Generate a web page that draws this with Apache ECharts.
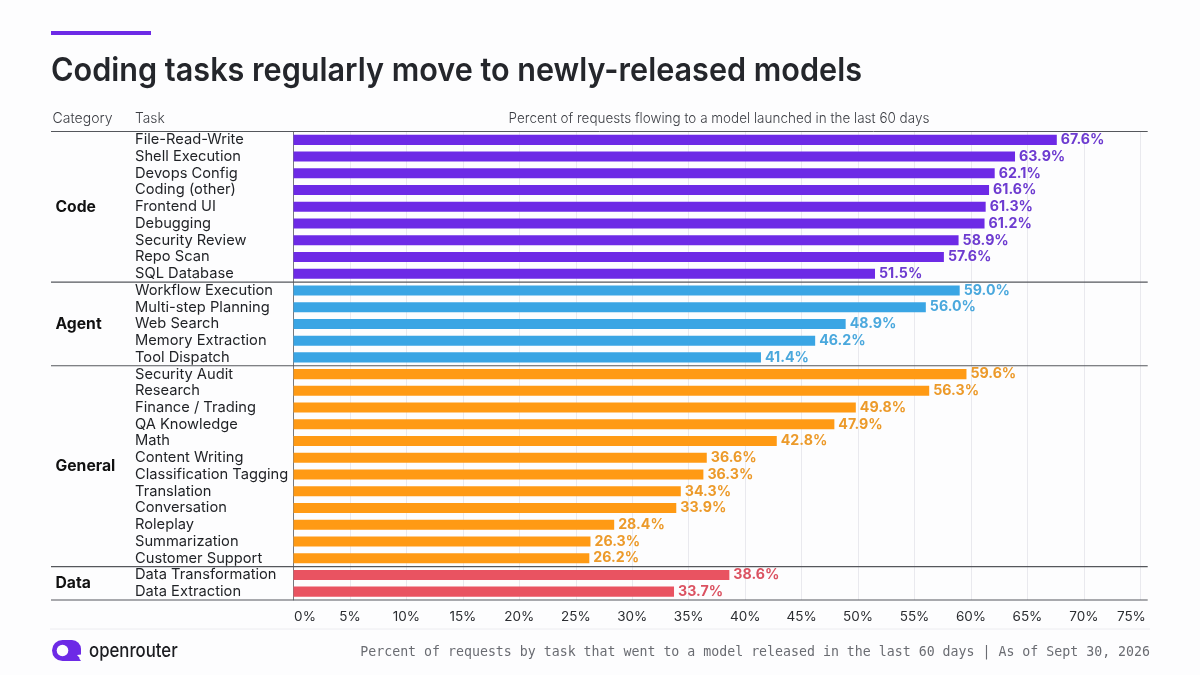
<!DOCTYPE html>
<html>
<head>
<meta charset="utf-8">
<title>Coding tasks regularly move to newly-released models</title>
<script src="https://cdn.jsdelivr.net/npm/echarts@6/dist/echarts.min.js"></script>
<style>
  html, body { margin: 0; padding: 0; background: #fdfdfe; }
  #chart { width: 1200px; height: 675px; }
</style>
</head>
<body>
<div id="chart"></div>
<script>
// Task groups, top to bottom
const groupNames = ['Code', 'Agent', 'General', 'Data'];
const codeTasks = ['File-Read-Write', 'Shell Execution', 'Devops Config', 'Coding (other)', 'Frontend UI', 'Debugging', 'Security Review', 'Repo Scan', 'SQL Database'];
const codeValues = [67.6, 63.9, 62.1, 61.6, 61.3, 61.2, 58.9, 57.6, 51.5];
const agentTasks = ['Workflow Execution', 'Multi-step Planning', 'Web Search', 'Memory Extraction', 'Tool Dispatch'];
const agentValues = [59.0, 56.0, 48.9, 46.2, 41.4];
const generalTasks = ['Security Audit', 'Research', 'Finance / Trading', 'QA Knowledge', 'Math', 'Content Writing', 'Classification Tagging', 'Translation', 'Conversation', 'Roleplay', 'Summarization', 'Customer Support'];
const generalValues = [59.6, 56.3, 49.8, 47.9, 42.8, 36.6, 36.3, 34.3, 33.9, 28.4, 26.3, 26.2];
const dataTasks = ['Data Transformation', 'Data Extraction'];
const dataValues = [38.6, 33.7];

const groupTasks = [codeTasks, agentTasks, generalTasks, dataTasks];
const groupValues = [codeValues, agentValues, generalValues, dataValues];
const barColors = ['#6d2ae6', '#3aa5e4', '#ff9a14', '#e95361'];
const labelColors = ['#6d3bd0', '#4aa8dd', '#ec9a2a', '#db5261'];

const SANS = 'Inter, "Noto Sans", sans-serif';
const INK = '#24262b';
const RULE = '#55575c';
const PAPER = '#fdfdfe';

// Plot area
const plot = { left: 293.5, top: 131.5, width: 854.2, height: 468.5 };
const ruleLeft = 51;
const allTasks = groupTasks.flat();
const band = plot.height / allTasks.length;

// One stacked series per group; rows outside the group stay empty
let offset = 0;
const series = [];
const separators = [];
const groupLabels = [];
groupNames.forEach((name, g) => {
  const values = groupValues[g];
  const row = allTasks.map((_, i) =>
    i >= offset && i < offset + values.length ? values[i - offset] : '-');
  series.push({
    name, type: 'bar', stack: 'rows', data: row, barWidth: '60%',
    itemStyle: { color: barColors[g] },
    label: {
      show: true, position: 'right', distance: 4, padding: [2, 0, 0, 0],
      color: labelColors[g], fontFamily: SANS, fontWeight: 700, fontSize: 14.2,
      formatter: p => p.value.toFixed(1) + '%'
    }
  });
  const yMid = plot.top + band * (offset + values.length / 2);
  groupLabels.push({
    type: 'text', x: 55.5, y: yMid + 0.5, silent: true,
    style: { text: name, fill: '#111', font: '700 15.7px ' + SANS, textVerticalAlign: 'middle' }
  });
  offset += values.length;
  separators.push(plot.top + band * offset);
});

const hline = (y, width) => ({
  type: 'line', silent: true, z: 10,
  shape: { x1: ruleLeft, y1: y, x2: plot.left + plot.width, y2: y },
  style: { stroke: RULE, lineWidth: width }
});
const headerText = (text, x, scaleX, extra) => ({
  type: 'text', x, y: 118.5, scaleX, silent: true,
  style: Object.assign({ text, fill: '#3c3e44', font: '300 14.5px ' + SANS, textVerticalAlign: 'middle' }, extra)
});

const chart = echarts.init(document.getElementById('chart'), null, { renderer: 'canvas' });
chart.setOption({
  animation: false,
  backgroundColor: PAPER,
  grid: { left: plot.left, top: plot.top, width: plot.width, height: plot.height, containLabel: false },
  xAxis: {
    type: 'value', min: 0, max: 75.65, interval: 5,
    axisLine: { show: false }, axisTick: { show: false },
    splitLine: { show: true, showMinLine: false, showMaxLine: false, lineStyle: { color: '#e9e9ee', width: 1 } },
    axisLabel: {
      margin: 9.5, color: '#2b2d31', fontFamily: SANS, fontSize: 13.5,
      formatter: v => {
        if (v % 5 !== 0) return '';
        if (v === 0) return '{first|0%}';
        if (v === 75) return '{last|75%}';
        return v + '%';
      },
      rich: {
        first: { color: '#2b2d31', fontFamily: SANS, fontSize: 13.5, padding: [0, 0, 0, 23] },
        last: { color: '#2b2d31', fontFamily: SANS, fontSize: 13.5, padding: [0, 18, 0, 0] }
      }
    }
  },
  yAxis: {
    type: 'category', inverse: true, data: allTasks,
    axisLine: { show: true, onZero: false, lineStyle: { color: '#77797e', width: 1 } },
    axisTick: { show: false }, splitLine: { show: false },
    axisLabel: {
      align: 'left', margin: 158.5, interval: 0, padding: [4, 0, 0, 0],
      color: '#1f2125', fontFamily: SANS, fontSize: 14.7
    }
  },
  series,
  graphic: [
    { type: 'rect', silent: true, shape: { x: 51, y: 31, width: 100, height: 4 }, style: { fill: '#6d2ae6' } },
    { type: 'text', x: 51, y: 71, scaleX: 0.927, silent: true,
      style: { text: 'Coding tasks regularly move to newly-released models', fill: INK, font: '600 33px ' + SANS, textVerticalAlign: 'middle' } },
    headerText('Category', 52.5, 0.97),
    headerText('Task', 135, 0.95),
    headerText('Percent of requests flowing to a model launched in the last 60 days', 719, 0.93, { textAlign: 'center' }),
    hline(plot.top, 1),
    ...separators.map(y => hline(y, 1.2)),
    ...groupLabels,
    { type: 'line', silent: true, shape: { x1: 50, y1: 629, x2: 1150, y2: 629 }, style: { stroke: '#ececf0', lineWidth: 1 } },
    // Wordmark: rounded body, leg and counter
    { type: 'rect', silent: true, z: 5, shape: { x: 52, y: 640, width: 29, height: 21, r: [10.5, 9, 7, 10.5] }, style: { fill: '#6d2ae6' } },
    { type: 'polygon', silent: true, z: 5, shape: { points: [[68, 661], [81, 661], [76, 654], [68, 654]] }, style: { fill: '#6d2ae6' } },
    { type: 'polygon', silent: true, z: 5, shape: { points: [[81.5, 654.5], [81.5, 660], [77, 655]] }, style: { fill: PAPER } },
    { type: 'circle', silent: true, z: 6, shape: { cx: 62.5, cy: 650.5, r: 5.8 }, style: { fill: PAPER } },
    { type: 'text', x: 89, y: 651, scaleX: 0.86, silent: true,
      style: { text: 'openrouter', fill: '#1c1d21', font: '500 19.5px ' + SANS, textVerticalAlign: 'middle' } },
    { type: 'text', x: 1150, y: 652.5, silent: true,
      style: { text: 'Percent of requests by task that went to a model released in the last 60 days | As of Sept 30, 2026', fill: '#6a6c72', font: '13.25px "DejaVu Sans Mono", monospace', textAlign: 'right', textVerticalAlign: 'middle' } }
  ]
});
</script>
</body>
</html>
